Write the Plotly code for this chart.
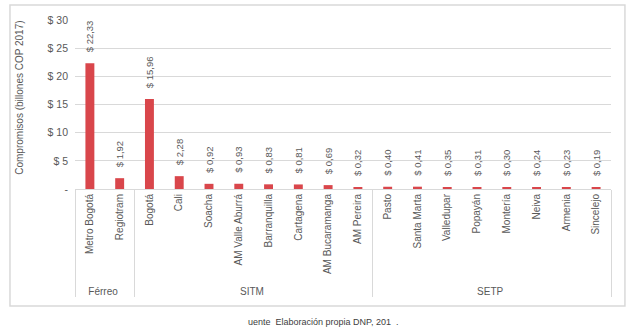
import plotly.graph_objects as go

groups = ["Férreo", "Férreo",
          "SITM", "SITM", "SITM", "SITM", "SITM", "SITM", "SITM", "SITM",
          "SETP", "SETP", "SETP", "SETP", "SETP", "SETP", "SETP", "SETP"]
cities = ["Metro Bogotá", "Regiotram",
          "Bogotá", "Cali", "Soacha", "AM Valle Aburrá", "Barranquilla", "Cartagena", "AM Bucaramanga", "AM Pereira",
          "Pasto", "Santa Marta", "Valledupar", "Popayán", "Montería", "Neiva", "Armenia", "Sincelejo"]
values = [22.33, 1.92,
          15.96, 2.28, 0.92, 0.93, 0.83, 0.81, 0.69, 0.32,
          0.40, 0.41, 0.35, 0.31, 0.30, 0.24, 0.23, 0.19]
y_tickvals = [0, 5, 10, 15, 20, 25, 30]
y_ticktext = ["-", "$ 5", "$ 10", "$ 15", "$ 20", "$ 25", "$ 30"]

FONT = "Liberation Sans"
GRAY = "#595959"
RED = "#d9464b"
LINE = "#d9d9d9"

fig = go.Figure(go.Bar(
    x=[groups, cities], y=values,
    marker=dict(color=RED, line=dict(width=0)),
    texttemplate="\u00a0\u00a0\u00a0$ %{y:.2f}", textposition="outside", textangle=-90,
    constraintext="none",
    textfont=dict(family=FONT, size=9.5, color=GRAY),
    cliponaxis=False,
))

fig.update_layout(
    width=626, height=332,
    margin=dict(l=75, r=15, t=20, b=143),
    paper_bgcolor="white", plot_bgcolor="white",
    separators=",.",
    bargap=0.7,
    showlegend=False,
    font=dict(family=FONT, size=10, color=GRAY),
    xaxis=dict(
        type="multicategory", tickangle=-90,
        tickfont=dict(family=FONT, size=10, color=GRAY),
        showline=True, linecolor=LINE, linewidth=1,
        showdividers=True, dividercolor=LINE, dividerwidth=1,
        ticks="", automargin=False,
    ),
    yaxis=dict(
        range=[0, 30], tickvals=y_tickvals, ticktext=y_ticktext,
        showgrid=True, gridcolor=LINE, gridwidth=1,
        zeroline=False, ticks="", automargin=False, ticklabelstandoff=6,
        tickfont=dict(family=FONT, size=10.5, color=GRAY),
    ),
    shapes=[dict(type="rect", xref="paper", yref="paper",
                 x0=-0.1213, x1=1.026, y0=-0.692, y1=1.089,
                 line=dict(color=LINE, width=1.5), fillcolor="rgba(0,0,0,0)", layer="below")],
    annotations=[
        dict(text="Compromisos (billones COP 2017)", xref="paper", yref="paper",
             x=-0.1026, y=0.54, textangle=-90, showarrow=False,
             xanchor="center", yanchor="middle",
             font=dict(family=FONT, size=10, color=GRAY)),
        dict(text="uente  Elaboración propia DNP, 201  .", xref="paper", yref="paper",
             x=0.463, y=-0.787, showarrow=False, xanchor="center", yanchor="middle",
             font=dict(family=FONT, size=9, color="#404040")),
    ],
)

fig.write_html("out.html", config={"displayModeBar": False},
               post_script="document.body.style.margin='0';document.body.style.padding='0';")
